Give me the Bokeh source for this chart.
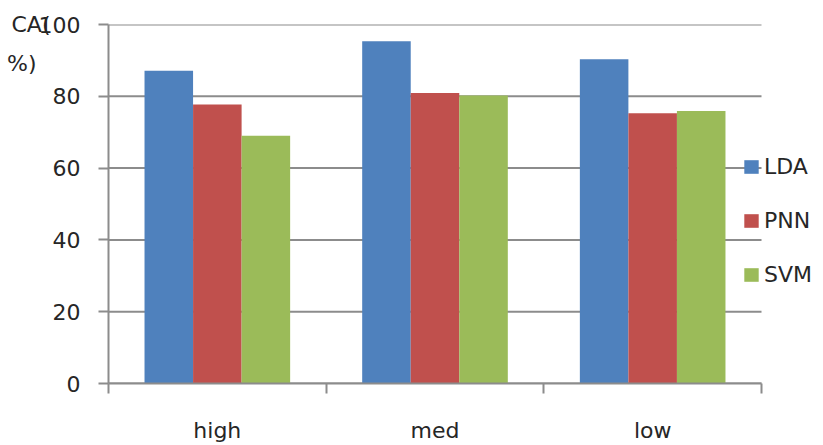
from bokeh.plotting import figure
from bokeh.models import (ColumnDataSource, FixedTicker, Legend, LegendItem,
                          Range1d)
from bokeh.transform import dodge
from bokeh.embed import file_html
from bokeh.resources import INLINE

# classification accuracy (%) per workload level and classifier
categories = ["high", "med", "low"]
lda = [87.1, 95.3, 90.3]
pnn = [77.7, 80.9, 75.3]
svm = [69.0, 80.2, 75.9]
series_names = ["LDA", "PNN", "SVM"]
series_colors = ["#4F81BD", "#C0504D", "#9BBB59"]
y_ticks = [0, 20, 40, 60, 80, 100]

FONT = "DejaVu Sans"
FONT_SIZE = "22px"
TEXT_COLOR = "#262626"
LINE_COLOR = "#8c8c8c"

W, H = 823, 445
LEFT, TOP, BOTTOM = 108, 24, 55
AXIS_END_PX = 761          # where the category axis and grid stop
n = len(categories)

# one unit of x per category; the frame runs on past the last category
# so that the legend can sit in the free strip at the right
x_end = n * (W - LEFT) / (AXIS_END_PX - LEFT)
x_pos = [i + 0.5 for i in range(n)]
src = ColumnDataSource(dict(x=x_pos, LDA=lda, PNN=pnn, SVM=svm))
grid_src = ColumnDataSource(dict(y=y_ticks, x0=[0] * len(y_ticks),
                                 x1=[n] * len(y_ticks)))

p = figure(width=W, height=H, output_backend="svg", toolbar_location=None,
           x_range=Range1d(0, x_end), y_range=Range1d(0, 100),
           min_border_left=LEFT, min_border_right=0,
           min_border_top=TOP, min_border_bottom=BOTTOM)
p.outline_line_color = None
p.background_fill_color = "white"
p.border_fill_color = "white"
p.xgrid.visible = False
p.ygrid.visible = False

# horizontal gridlines, stopping at the end of the category axis
p.segment(x0="x0", x1="x1", y0="y", y1="y", source=grid_src,
          line_color=LINE_COLOR, line_width=2)

bar_w = 0.223
offsets = [-bar_w, 0.0, bar_w]
renderers = []
for name, color, off in zip(series_names, series_colors, offsets):
    r = p.vbar(x=dodge("x", off), top=name, width=bar_w, source=src,
               fill_color=color, line_color=None)
    renderers.append(r)

# x axis: category labels at centres, tick marks between categories
xa = p.xaxis[0]
xa.bounds = (0, n)
xa.ticker = FixedTicker(ticks=x_pos, minor_ticks=list(range(n + 1)))
xa.major_label_overrides = {x: c for x, c in zip(x_pos, categories)}
xa.major_tick_out = 0
xa.major_tick_in = 0
xa.minor_tick_out = 10
xa.minor_tick_in = 0
xa.minor_tick_line_color = LINE_COLOR
xa.minor_tick_line_width = 2
xa.axis_line_color = LINE_COLOR
xa.axis_line_width = 2
xa.major_label_standoff = 24
xa.major_label_text_font = FONT
xa.major_label_text_font_size = FONT_SIZE
xa.major_label_text_color = TEXT_COLOR

ya = p.yaxis[0]
ya.ticker = FixedTicker(ticks=y_ticks, minor_ticks=[])
ya.major_tick_out = 10
ya.major_tick_in = 0
ya.major_tick_line_color = LINE_COLOR
ya.major_tick_line_width = 2
ya.axis_line_color = LINE_COLOR
ya.axis_line_width = 2
ya.major_label_standoff = 18
ya.major_label_text_font = FONT
ya.major_label_text_font_size = FONT_SIZE
ya.major_label_text_color = TEXT_COLOR

# axis title: horizontal, wrapped, hanging from the top end of the axis
# (the leading empty line drops the block below the axis end, and the
# non-breaking spaces keep the second line flush left with the first)
ya.axis_label = "\nCA(\n%)\u00a0\u00a0"
ya.axis_label_orientation = "horizontal"
ya.axis_label_align = "end"
ya.axis_label_standoff = -15
ya.axis_label_text_font = FONT
ya.axis_label_text_font_size = FONT_SIZE
ya.axis_label_text_font_style = "normal"
ya.axis_label_text_color = TEXT_COLOR
ya.axis_label_text_line_height = 1.55

legend = Legend(items=[LegendItem(label=nm, renderers=[r])
                       for nm, r in zip(series_names, renderers)],
                location=(634, 96), orientation="vertical",
                glyph_width=18, glyph_height=17, label_standoff=4,
                spacing=29, padding=0, margin=0,
                border_line_color=None, background_fill_alpha=0,
                label_text_font=FONT, label_text_font_size=FONT_SIZE,
                label_text_color=TEXT_COLOR)
p.add_layout(legend)

open("out.html", "w").write(file_html(p, INLINE))
